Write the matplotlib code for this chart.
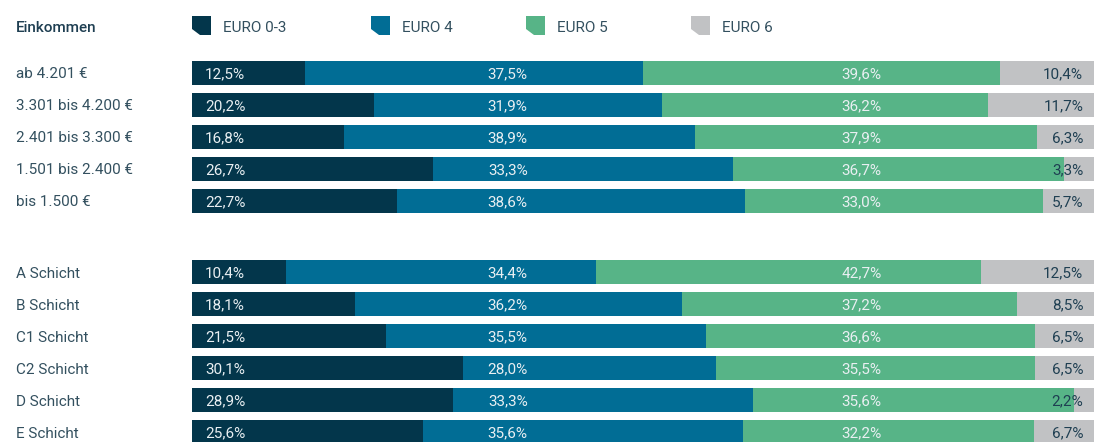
import matplotlib
matplotlib.use("Agg")
import matplotlib.pyplot as plt
from matplotlib import transforms
from matplotlib.patches import Polygon

plt.rcParams['font.family'] = ['Roboto', 'DejaVu Sans']

# ---- data ----
income_labels = ["ab 4.201 €", "3.301 bis 4.200 €", "2.401 bis 3.300 €", "1.501 bis 2.400 €", "bis 1.500 €"]
income_euro03 = [12.5, 20.2, 16.8, 26.7, 22.7]
income_euro4 = [37.5, 31.9, 38.9, 33.3, 38.6]
income_euro5 = [39.6, 36.2, 37.9, 36.7, 33.0]
income_euro6 = [10.4, 11.7, 6.3, 3.3, 5.7]

class_labels = ["A Schicht", "B Schicht", "C1 Schicht", "C2 Schicht", "D Schicht", "E Schicht"]
class_euro03 = [10.4, 18.1, 21.5, 30.1, 28.9, 25.6]
class_euro4 = [34.4, 36.2, 35.5, 28.0, 33.3, 35.6]
class_euro5 = [42.7, 37.2, 36.6, 35.5, 35.6, 32.2]
class_euro6 = [12.5, 8.5, 6.5, 6.5, 2.2, 6.7]

series_names = ["EURO 0-3", "EURO 4", "EURO 5", "EURO 6"]
header = "Einkommen"

colors = ["#03364b", "#016d95", "#57b487", "#c1c2c4"]
label_colors = ["#e9eff2", "#e9eff2", "#e9eff2", "#1f3f52"]
text_color = "#33505f"

W, H = 1097, 442
fig = plt.figure(figsize=(W / 100, H / 100), dpi=100)
x0, x1 = 192, 1094
ax = fig.add_axes([x0 / W, 0, (x1 - x0) / W, 1])
row_px = 32.0
top_px = 73.0
ax.set_ylim((H - top_px) / row_px, -top_px / row_px)
ax.set_xlim(0, 100)
ax.axis("off")

groups = [
    (income_labels, [income_euro03, income_euro4, income_euro5, income_euro6], 0.0),
    (class_labels, [class_euro03, class_euro4, class_euro5, class_euro6], 6.22),
]

# fixed label columns (fraction of bar width)
col_x = [1.45, 35.0, 74.2, 98.8]
col_ha = ["left", "center", "center", "right"]

lab_tr = transforms.blended_transform_factory(fig.transFigure, ax.transData)

for labels, series, start in groups:
    ys = [start + i for i in range(len(labels))]
    left = [0.0] * len(labels)
    for k, vals in enumerate(series):
        tot = [sum(s[i] for s in series) for i in range(len(labels))]
        widths = [v / t * 100 for v, t in zip(vals, tot)]
        ax.barh(ys, widths, left=left, height=0.75, color=colors[k], linewidth=0)
        left = [l + w for l, w in zip(left, widths)]
    for k, vals in enumerate(series):
        for y, v in zip(ys, vals):
            ax.text(col_x[k], y, f"{v:.1f}%".replace(".", ","), ha=col_ha[k],
                    va="center_baseline", fontsize=11, color=label_colors[k], zorder=5)
    for y, lab in zip(ys, labels):
        ax.text(16 / W, y, lab, transform=lab_tr, ha="left", va="center_baseline",
                fontsize=11, color=text_color)

# header + legend
fig.text(16 / W, 1 - 27 / H, header, ha="left", va="center_baseline", fontsize=11,
         color="#1f3f52", fontweight="medium")
leg_x = [192, 371, 526, 691]
for k, name in enumerate(series_names):
    mx = leg_x[k]
    pts = [(mx, 16), (mx + 19, 16), (mx + 19, 35), (mx + 8, 35), (mx, 29)]
    pts = [(px / W, 1 - py / H) for px, py in pts]
    fig.patches.append(Polygon(pts, closed=True, transform=fig.transFigure,
                               facecolor=colors[k], edgecolor="none"))
    fig.text((mx + 31) / W, 1 - 27 / H, name, ha="left", va="center_baseline",
             fontsize=11, color=text_color)

fig.savefig("out.png", dpi=100)
